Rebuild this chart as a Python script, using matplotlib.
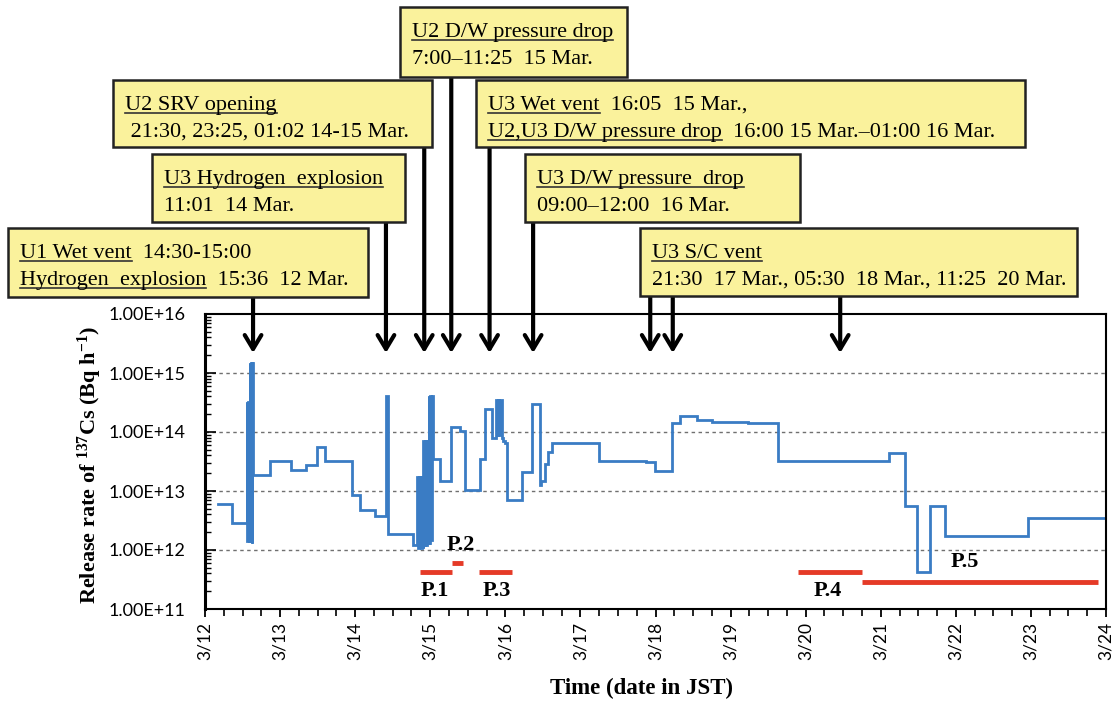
import matplotlib
matplotlib.use("Agg")
import matplotlib.pyplot as plt
from matplotlib.patches import Rectangle
from matplotlib.lines import Line2D
from matplotlib.font_manager import FontProperties
from matplotlib.ticker import MultipleLocator, LogLocator, NullFormatter

W, H = 1118, 703

# release rate of Cs-137, days since 3/12 00:00 JST (steps-post)
t_rel = [0.17, 0.36,
         0.555, 0.565, 0.575, 0.585, 0.595, 0.605, 0.615, 0.625, 0.632,
         0.64, 0.87, 1.14, 1.345, 1.49, 1.60, 1.96, 2.06, 2.26,
         2.41, 2.44, 2.77,
         2.83, 2.84, 2.85, 2.86, 2.87, 2.88, 2.89, 2.90, 2.91, 2.92,
         2.93, 2.945, 2.955, 2.97, 2.98, 2.99, 3.00, 3.01, 3.02,
         3.035, 3.13, 3.28, 3.39, 3.46, 3.66, 3.73, 3.82,
         3.88, 3.895, 3.905, 3.92, 3.93,
         3.95, 3.97, 4.00, 4.02, 4.22, 4.35, 4.46, 4.48, 4.53, 4.57, 4.62,
         5.25, 5.88, 5.99, 6.22, 6.33, 6.55, 6.75, 7.23, 7.63,
         9.11, 9.32, 9.48, 9.66, 9.85, 10.96, 12.0]
q_rel = [6e12, 2.9e12,
         3.2e14, 1.4e12, 3.2e14, 1.4e12, 1.45e15, 1.4e12, 1.45e15, 1.3e12, 1.45e15,
         1.85e13, 3.2e13, 2.3e13, 2.8e13, 5.5e13, 3.2e13, 8.7e12, 4.8e12, 3.8e12,
         4e14, 1.9e12, 1.2e12,
         1.7e13, 1.1e12, 1.7e13, 1.1e12, 1.7e13, 1.1e12, 1.7e13, 1.1e12, 7e13, 1.2e12,
         7e13, 1.2e12, 7e13, 1.3e12, 4e14, 1.3e12, 4e14, 1.5e12, 4e14,
         3.5e13, 1.5e13, 1.2e14, 1.05e14, 1.05e13, 3.5e13, 2.5e14, 8e13,
         3.5e14, 9e13, 3.5e14, 9e13, 3.5e14,
         8e13, 7e13, 6.5e13, 7e12, 2.1e13, 3e14, 1.26e13, 1.5e13, 2.9e13, 4.6e13, 6.6e13,
         3.2e13, 3.1e13, 2.2e13, 1.4e14, 1.9e14, 1.6e14, 1.5e14, 1.4e14, 3.2e13,
         4.4e13, 5.5e12, 4.3e11, 5.5e12, 1.7e12, 3.5e12, 6.8e11]

# plume periods
per_names = ["P.1", "P.2", "P.3", "P.4", "P.5"]
per_start = [2.86, 3.29, 3.65, 7.90, 8.75]
per_end = [3.29, 3.44, 4.09, 8.75, 11.89]
per_level = [4.2e11, 6e11, 4.2e11, 4.2e11, 2.9e11]
per_label_x = [3.06, 3.41, 3.89, 8.30, 10.12]
per_label_y = [2.0e11, 1.2e12, 2.0e11, 2.0e11, 6.2e11]

# event arrows: day and which box they hang from
event_days = [0.64, 2.41, 2.92, 3.28, 3.79, 4.37, 5.93, 6.23, 8.46]
event_box = [5, 3, 1, 0, 2, 4, 6, 6, 6]

day_labels = ["3/12", "3/13", "3/14", "3/15", "3/16", "3/17", "3/18",
              "3/19", "3/20", "3/21", "3/22", "3/23", "3/24"]
ytick_vals = [1e11, 1e12, 1e13, 1e14, 1e15, 1e16]
ytick_labels = ["1.00E+11", "1.00E+12", "1.00E+13", "1.00E+14", "1.00E+15", "1.00E+16"]

box_text = [
    ["U2 D/W pressure drop", "7:00\u201311:25  15 Mar."],
    ["U2 SRV opening", " 21:30, 23:25, 01:02 14-15 Mar."],
    ["U3 Wet vent  16:05  15 Mar.,", "U2,U3 D/W pressure drop  16:00 15 Mar.\u201301:00 16 Mar."],
    ["U3 Hydrogen  explosion", "11:01  14 Mar."],
    ["U3 D/W pressure  drop", "09:00\u201312:00  16 Mar."],
    ["U1 Wet vent  14:30-15:00", "Hydrogen  explosion  15:36  12 Mar."],
    ["U3 S/C vent", "21:30  17 Mar., 05:30  18 Mar., 11:25  20 Mar."],
]
box_ul = [
    ["U2 D/W pressure drop", ""],
    ["U2 SRV opening", ""],
    ["U3 Wet vent", "U2,U3 D/W pressure drop"],
    ["U3 Hydrogen  explosion", ""],
    ["U3 D/W pressure  drop", ""],
    ["U1 Wet vent", "Hydrogen  explosion"],
    ["U3 S/C vent", ""],
]
# box corners in pixels (left, top, right, bottom), origin top-left
box_px = [(400, 7, 627, 77), (113, 80, 432, 147), (476, 80, 1025, 147),
          (152, 154, 405, 222), (525, 154, 800, 222), (8, 228, 368, 297),
          (640, 228, 1077, 296)]

plt.rcParams['mathtext.fontset'] = 'custom'
plt.rcParams['mathtext.rm'] = 'Liberation Serif:bold'
plt.rcParams['mathtext.it'] = 'Liberation Serif:bold'
plt.rcParams['mathtext.bf'] = 'Liberation Serif:bold'

fig = plt.figure(figsize=(W / 100, H / 100), dpi=100)
ax = fig.add_axes([205 / W, 1 - 609 / H, 901 / W, 295 / H])

blue = "#3a7cc4"
red = "#e53a27"

ax.plot(t_rel, q_rel, drawstyle="steps-post", color=blue, lw=2.0, solid_joinstyle="miter")
for s, e, lv in zip(per_start, per_end, per_level):
    ax.plot([s, e], [lv, lv], color=red, lw=3.5, solid_capstyle="butt")
for name, x, y in zip(per_names, per_label_x, per_label_y):
    ax.text(x, y, name, ha="center", va="center", family="Liberation Serif",
            weight="bold", fontsize=16)

ax.set_yscale("log")
ax.set_ylim(1e11, 1e16)
ax.set_xlim(0, 12)
ax.set_yticks(ytick_vals, ytick_labels)
ax.yaxis.set_minor_locator(LogLocator(base=10, subs=range(2, 10)))
ax.yaxis.set_minor_formatter(NullFormatter())
ax.set_xticks(range(13), day_labels, rotation=90)
ax.xaxis.set_minor_locator(MultipleLocator(0.25))
for v in ytick_vals[1:-1]:
    ax.axhline(v, color="#707070", lw=1.0, ls=(0, (2.5, 2.5)), zorder=0)

ax.tick_params(axis="y", which="major", direction="in", length=8, width=1.2,
               pad=14, labelsize=13)
ax.tick_params(axis="y", which="minor", direction="in", length=4, width=1)
ax.tick_params(axis="x", which="major", direction="out", length=6, width=1.3,
               pad=3, labelsize=12.5)
ax.tick_params(axis="x", which="minor", direction="out", length=5, width=1.2)
for lab in ax.get_xticklabels() + ax.get_yticklabels():
    lab.set_family("Lato")
for sp in ax.spines.values():
    sp.set_linewidth(1.5)
ax.spines["left"].set_linewidth(2.2)

fig.text(642 / W, 1 - 688 / H, "Time (date in JST)", ha="center", va="center",
         family="Liberation Serif", weight="bold", fontsize=16.5)
fig.text(90 / W, 1 - 465 / H, r"Release rate of $^{137}$Cs (Bq h$^{\mathregular{-1}}$)",
         rotation=90, ha="center", va="center", family="Liberation Serif",
         weight="bold", fontsize=16)

# event arrows from the boxes into the plot
for d, b in zip(event_days, event_box):
    y0 = 1 - box_px[b][3] / H
    ax.annotate("", xy=(d, 1 - 353 / H), xycoords=("data", "figure fraction"),
                xytext=(d, y0), textcoords=("data", "figure fraction"),
                arrowprops=dict(arrowstyle="->,head_length=1.0,head_width=0.6",
                                lw=3, color="black", shrinkA=0, shrinkB=0),
                annotation_clip=False)

# annotation boxes with underlined headings
renderer = fig.canvas.get_renderer()
fp = FontProperties(family="Liberation Serif", size=16)
for (l, t, r, b), lines, uls in zip(box_px, box_text, box_ul):
    fig.patches.append(Rectangle((l / W, 1 - b / H), (r - l) / W, (b - t) / H,
                                 transform=fig.transFigure, facecolor="#faf29c",
                                 edgecolor="#222222", lw=1.8, zorder=3))
    for i, (txt, ul) in enumerate(zip(lines, uls)):
        base = t + 30 + 27 * i
        fig.text((l + 12) / W, 1 - base / H, txt, fontproperties=fp,
                 ha="left", va="baseline", zorder=4)
        if ul:
            w_ul = renderer.get_text_width_height_descent(ul, fp, ismath=False)[0]
            fig.lines.append(Line2D([(l + 12) / W, (l + 12 + w_ul) / W],
                                    [1 - (base + 2.5) / H] * 2,
                                    transform=fig.transFigure, color="#333333",
                                    lw=1.2, zorder=4))

fig.savefig("out.png", dpi=100, facecolor="white")
